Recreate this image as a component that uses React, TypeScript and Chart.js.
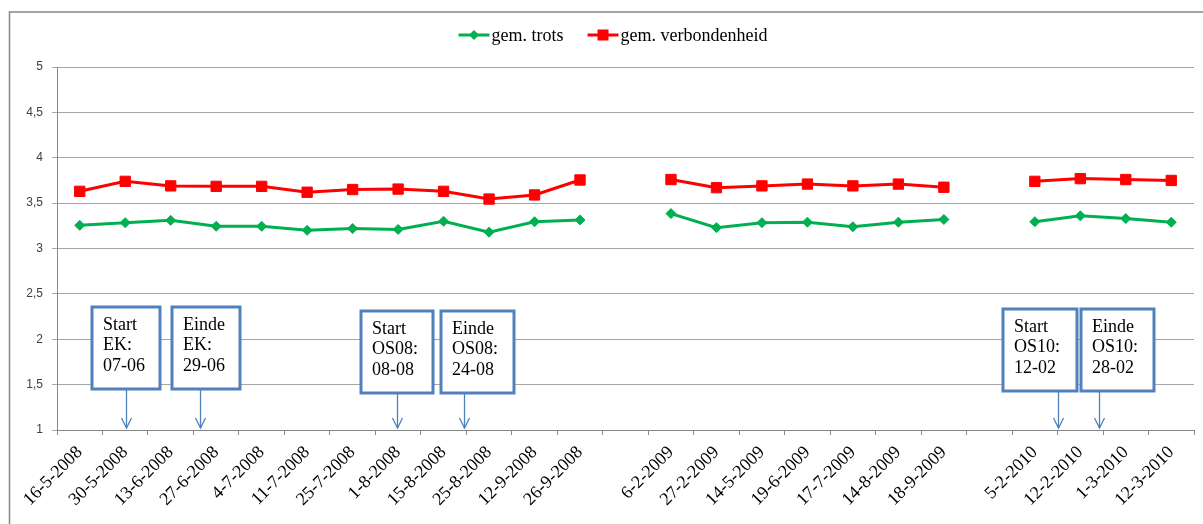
import React, { useEffect, useRef } from 'react';
import { Chart, registerables } from 'chart.js';

Chart.register(...registerables);

const categories = [
  '16-5-2008', '30-5-2008', '13-6-2008', '27-6-2008', '4-7-2008', '11-7-2008',
  '25-7-2008', '1-8-2008', '15-8-2008', '25-8-2008', '12-9-2008', '26-9-2008',
  '',
  '6-2-2009', '27-2-2009', '14-5-2009', '19-6-2009', '17-7-2009', '14-8-2009', '18-9-2009',
  '',
  '5-2-2010', '12-2-2010', '1-3-2010', '12-3-2010',
];

const seriesNames = ['gem. trots', 'gem. verbondenheid'];

const trots = [
  3.255, 3.285, 3.31, 3.245, 3.245, 3.2, 3.22, 3.21, 3.3, 3.18, 3.295, 3.315,
  null,
  3.385, 3.23, 3.285, 3.29, 3.24, 3.29, 3.32,
  null,
  3.295, 3.36, 3.33, 3.29,
];

const verbondenheid = [
  3.63, 3.74, 3.69, 3.685, 3.685, 3.62, 3.65, 3.655, 3.63, 3.545, 3.59, 3.755,
  null,
  3.76, 3.67, 3.69, 3.71, 3.69, 3.71, 3.675,
  null,
  3.74, 3.77, 3.76, 3.75,
];

const yMin = 1;
const yMax = 5;
const yStep = 0.5;

const eventTexts = [
  ['Start', 'EK:', '07-06'],
  ['Einde', 'EK:', '29-06'],
  ['Start', 'OS08:', '08-08'],
  ['Einde', 'OS08:', '24-08'],
  ['Start', 'OS10:', '12-02'],
  ['Einde', 'OS10:', '28-02'],
];
// fractional category position where each arrow points
const eventPositions = [1.02, 2.64, 6.97, 8.45, 21.5, 22.42];

// box layout (pixels): offset of box left from arrow, width, top, height
const boxLayout = [
  { dx: -34, w: 68, top: 307, h: 82 },
  { dx: -28, w: 68, top: 307, h: 82 },
  { dx: -36, w: 72, top: 311, h: 82 },
  { dx: -23, w: 73, top: 311, h: 82 },
  { dx: -55, w: 74, top: 309, h: 82 },
  { dx: -18, w: 73, top: 309, h: 82 },
];

const GREEN = '#00B050';
const RED = '#FF0000';
const BLUE = '#4F81BD';
const SERIF = '"Liberation Serif", "Times New Roman", serif';

const framePlugin = {
  id: 'frame',
  beforeDraw(chart: any) {
    const ctx = chart.ctx;
    ctx.save();
    ctx.fillStyle = '#ffffff';
    ctx.fillRect(0, 0, chart.width, chart.height);
    ctx.strokeStyle = '#868686';
    ctx.lineWidth = 1.5;
    ctx.strokeRect(9.5, 12, chart.width + 50, chart.height + 50);
    ctx.restore();
  },
};

const legendPlugin = {
  id: 'customLegend',
  afterDraw(chart: any) {
    const ctx = chart.ctx;
    ctx.save();
    ctx.font = `18px ${SERIF}`;
    ctx.textBaseline = 'middle';
    ctx.textAlign = 'left';
    const lineLen = 31;
    const gap = 24;
    const y = 35;
    const items = chart.data.datasets.map((ds: any) => ({
      label: ds.label,
      color: ds.borderColor,
      style: ds.pointStyle,
      w: lineLen + 2 + ctx.measureText(ds.label).width,
    }));
    const total = items.reduce((s: number, it: any) => s + it.w, 0) + gap * (items.length - 1);
    let x = 613 - total / 2;
    items.forEach((it: any) => {
      ctx.strokeStyle = it.color;
      ctx.fillStyle = it.color;
      ctx.lineWidth = 3;
      ctx.beginPath();
      ctx.moveTo(x, y);
      ctx.lineTo(x + lineLen, y);
      ctx.stroke();
      const cx = x + lineLen / 2;
      ctx.beginPath();
      if (it.style === 'rect') {
        ctx.rect(cx - 5.5, y - 5.5, 11, 11);
      } else {
        ctx.moveTo(cx, y - 5);
        ctx.lineTo(cx + 5, y);
        ctx.lineTo(cx, y + 5);
        ctx.lineTo(cx - 5, y);
        ctx.closePath();
      }
      ctx.fill();
      ctx.fillStyle = '#000';
      ctx.fillText(it.label, x + lineLen + 2, y + 1);
      x += it.w + gap;
    });
    ctx.restore();
  },
};

const eventsPlugin = {
  id: 'events',
  afterDatasetsDraw(chart: any) {
    const ctx = chart.ctx;
    const xs = chart.scales.x;
    const ys = chart.scales.y;
    eventTexts.forEach((lines, i) => {
      const ax = Math.round(xs.getPixelForValue(eventPositions[i])) + 0.5;
      const b = boxLayout[i];
      const left = ax - 0.5 + b.dx;
      const tip = ys.bottom - 2;
      ctx.save();
      ctx.strokeStyle = BLUE;
      ctx.lineWidth = 1.3;
      ctx.beginPath();
      ctx.moveTo(ax, b.top + b.h);
      ctx.lineTo(ax, tip);
      ctx.stroke();
      ctx.beginPath();
      ctx.moveTo(ax - 5, tip - 10);
      ctx.lineTo(ax, tip);
      ctx.lineTo(ax + 5, tip - 10);
      ctx.stroke();
      ctx.fillStyle = '#ffffff';
      ctx.fillRect(left, b.top, b.w, b.h);
      ctx.lineWidth = 3;
      ctx.strokeRect(left, b.top, b.w, b.h);
      ctx.fillStyle = '#000';
      ctx.font = `18px ${SERIF}`;
      ctx.textAlign = 'left';
      ctx.textBaseline = 'middle';
      lines.forEach((t, j) => ctx.fillText(t, left + 11, b.top + 18 + j * 20.5));
      ctx.restore();
    });
  },
};

export default function App() {
  const canvasRef = useRef<HTMLCanvasElement | null>(null);

  useEffect(() => {
    const canvas = canvasRef.current;
    if (!canvas) return;
    const chart = new Chart(canvas, {
      type: 'line',
      data: {
        labels: categories,
        datasets: [
          {
            label: seriesNames[0],
            data: trots,
            borderColor: GREEN,
            backgroundColor: GREEN,
            borderWidth: 3,
            pointStyle: 'rectRot',
            pointRadius: 5,
            pointBorderWidth: 1,
            pointBackgroundColor: GREEN,
            pointBorderColor: GREEN,
            spanGaps: false,
            tension: 0,
          },
          {
            label: seriesNames[1],
            data: verbondenheid,
            borderColor: RED,
            backgroundColor: RED,
            borderWidth: 3,
            pointStyle: 'rect',
            pointRadius: 7.3,
            pointBorderWidth: 1,
            pointBackgroundColor: RED,
            pointBorderColor: RED,
            spanGaps: false,
            tension: 0,
          },
        ],
      },
      options: {
        responsive: false,
        animation: false,
        layout: { padding: { left: 0, right: 9, top: 67, bottom: 0 } },
        plugins: {
          legend: { display: false },
          tooltip: { enabled: false },
        },
        scales: {
          x: {
            type: 'category',
            offset: true,
            grid: {
              drawOnChartArea: false,
              drawTicks: true,
              tickLength: 5,
              color: '#868686',
              offset: true,
            },
            border: { color: '#868686', width: 1 },
            ticks: {
              autoSkip: false,
              maxRotation: 45,
              minRotation: 45,
              color: '#000',
              padding: 7,
              font: { family: SERIF, size: 18 },
            },
            afterFit: (s: any) => {
              s.height = 94;
            },
          },
          y: {
            min: yMin,
            max: yMax,
            ticks: {
              stepSize: yStep,
              color: '#404040',
              padding: 9,
              font: { family: '"Liberation Sans", Arial, sans-serif', size: 12 },
              callback: (v: any) => String(v).replace('.', ','),
            },
            grid: { color: '#A6A6A6', tickLength: 5 },
            border: { color: '#868686' },
            afterFit: (s: any) => {
              s.width = 57;
            },
          },
        },
      },
      plugins: [framePlugin, eventsPlugin, legendPlugin],
    });
    return () => chart.destroy();
  }, []);

  return (
    <div style={{ position: 'fixed', left: 0, top: 0, width: 1203, height: 524, background: '#fff' }}>
      <canvas ref={canvasRef} width={1203} height={524} style={{ display: 'block' }} />
    </div>
  );
}
